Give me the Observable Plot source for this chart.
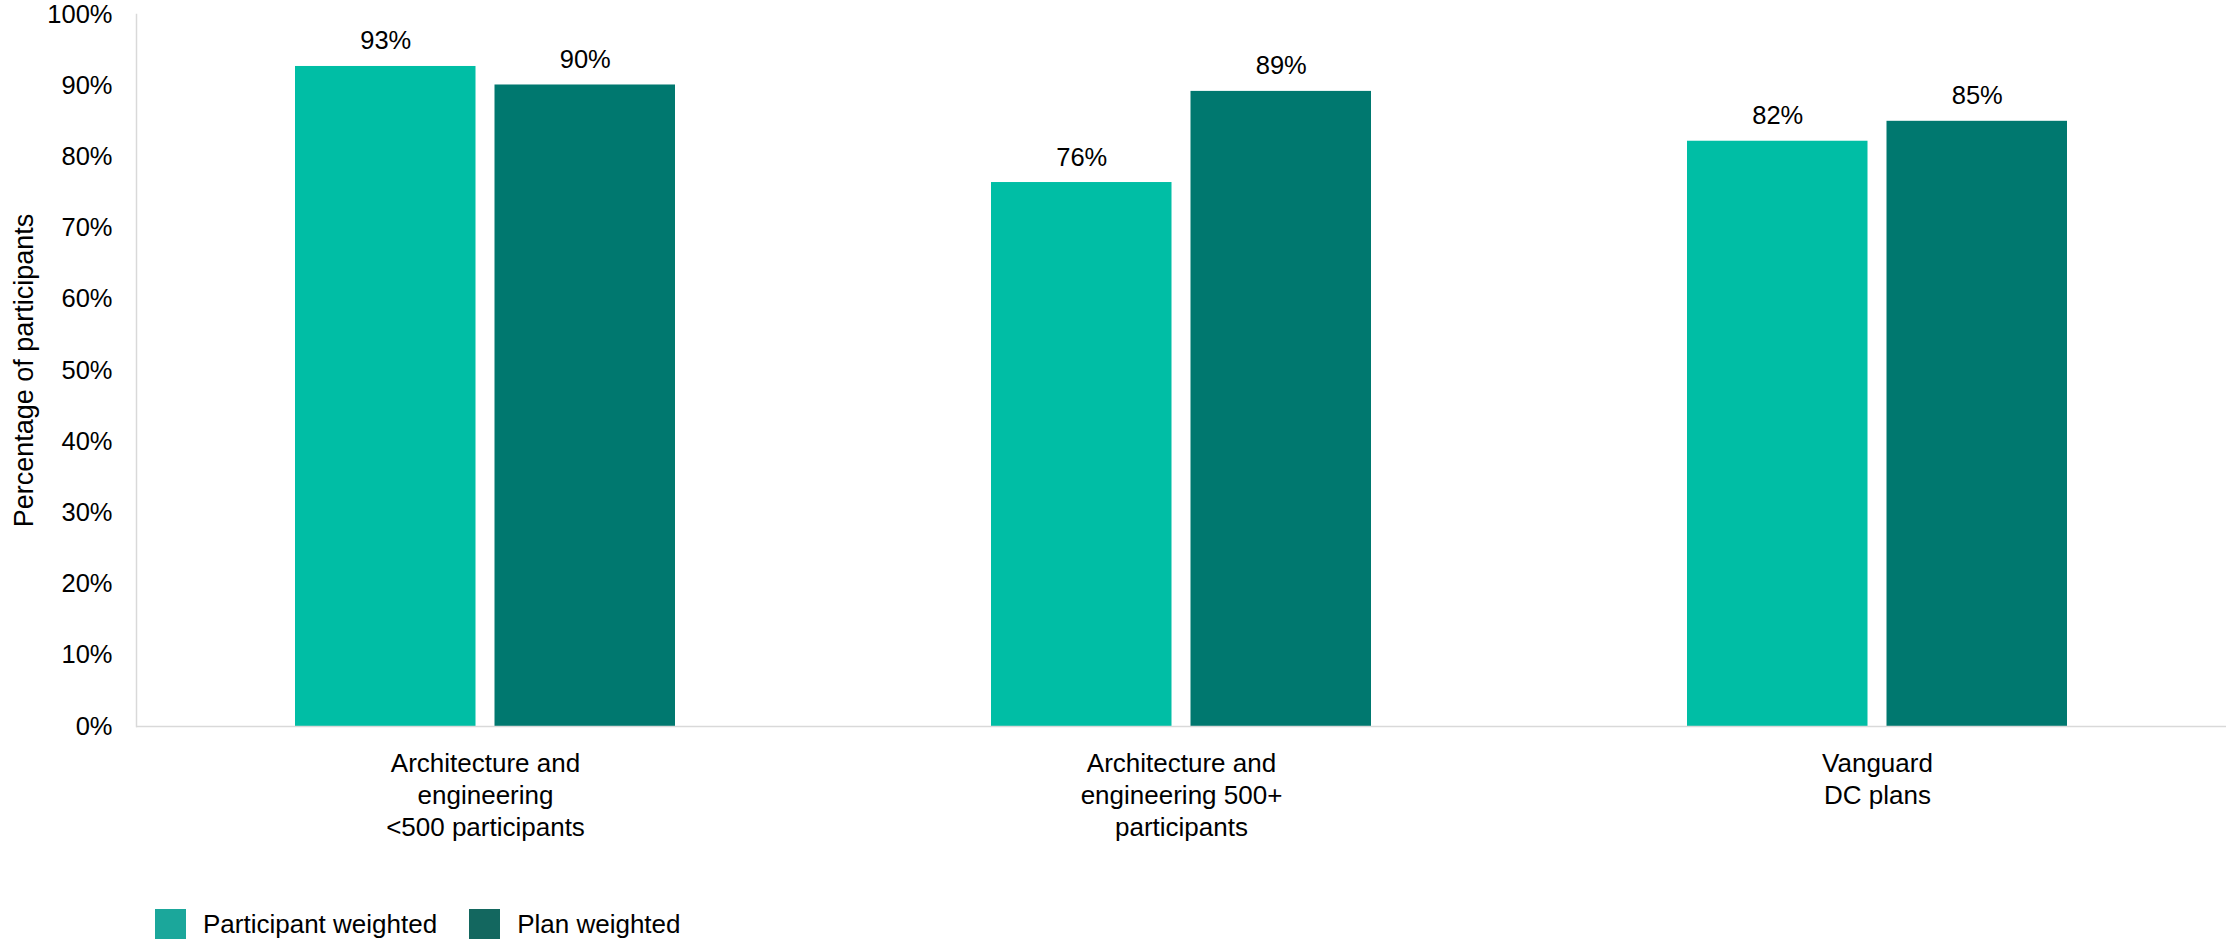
<!DOCTYPE html>
<html><head><meta charset="utf-8">
<script src="https://cdn.jsdelivr.net/npm/d3@7"></script>
<script src="https://cdn.jsdelivr.net/npm/@observablehq/plot@0.6"></script>
<style>
body{margin:0;background:#fff;font-family:"Liberation Sans",Arial,sans-serif;}
#legend{display:flex;align-items:center;margin-left:155px;margin-top:19px;font-size:26px;color:#000;line-height:30px;}
.item{display:flex;align-items:center;margin-right:32px}
.sw{width:31px;height:30px;margin-right:17px;flex:none}
</style></head><body><div id="chart"></div><div id="legend"></div>
<script>
const groups = ["Architecture and engineering <500 participants", "Architecture and engineering 500+ participants", "Vanguard DC plans"];
const groupLabels = ["Architecture and\nengineering\n<500 participants", "Architecture and\nengineering 500+\nparticipants", "Vanguard\nDC plans"];
const series = ["Participant weighted", "Plan weighted"];
const participantWeighted = [92.7, 76.4, 82.2];
const planWeighted = [90.1, 89.2, 85.0];
const yTicks = [0, 10, 20, 30, 40, 50, 60, 70, 80, 90, 100];
const barColors = ["#00bea5", "#00786f"];
const legendColors = ["#1ba79b", "#13675f"];

const data = groups.flatMap((g, i) => [
  {group: g, series: series[0], value: participantWeighted[i]},
  {group: g, series: series[1], value: planWeighted[i]}
]);
const labelOf = new Map(groups.map((g, i) => [g, groupLabels[i]]));
const s0 = data.filter(d => d.series === series[0]);
const s1 = data.filter(d => d.series === series[1]);
const pct = d => `${Math.round(d.value)}%`;

// each group band holds the two bars: bar, gap, bar
const barW = 180.9, gapW = 18.6;

const chart = Plot.plot({
  width: 2226, height: 890,
  marginLeft: 136, marginRight: 0, marginTop: 14, marginBottom: 164,
  style: {fontFamily: '"Liberation Sans", Arial, sans-serif', fontSize: "25.5px", color: "#000", background: "#fff"},
  x: {domain: groups, paddingInner: 0.454, paddingOuter: 0.227, axis: null},
  y: {domain: [0, 100], axis: null},
  color: {domain: series, range: barColors},
  marks: [
    Plot.barY(s0, {x: "group", y: "value", fill: "series", insetRight: barW + gapW}),
    Plot.barY(s1, {x: "group", y: "value", fill: "series", insetLeft: barW + gapW}),
    Plot.text(s0, {x: "group", y: "value", text: pct, dx: -(barW + gapW) / 2, dy: -17, lineAnchor: "bottom", fontSize: 25.5, fill: "#000"}),
    Plot.text(s1, {x: "group", y: "value", text: pct, dx: (barW + gapW) / 2, dy: -17, lineAnchor: "bottom", fontSize: 25.5, fill: "#000"}),
    Plot.ruleY([0], {stroke: "#d9d9d9", strokeWidth: 1.5}),
    Plot.frame({anchor: "left", stroke: "#d9d9d9", strokeWidth: 1.5}),
    Plot.axisY(yTicks, {tickSize: 0, tickPadding: 24, tickFormat: d => d + "%", fontSize: 25.5, fill: "#000", label: null}),
    Plot.axisY([], {tickSize: 0, fontSize: 27, fill: "#000",
      label: "Percentage of participants", labelAnchor: "center", labelOffset: 123, labelArrow: "none"}),
    Plot.axisX({anchor: "bottom", tickSize: 0, tickPadding: 23, tickFormat: d => labelOf.get(d), fontSize: 26, lineHeight: 1.23, fill: "#000", label: null})
  ]
});
document.getElementById("chart").appendChild(chart);

const legend = document.getElementById("legend");
series.forEach((s, i) => {
  const item = document.createElement("div");
  item.className = "item";
  const sw = document.createElement("div");
  sw.className = "sw";
  sw.style.background = legendColors[i];
  const t = document.createElement("span");
  t.textContent = s;
  item.appendChild(sw);
  item.appendChild(t);
  legend.appendChild(item);
});
</script>
</body></html>
